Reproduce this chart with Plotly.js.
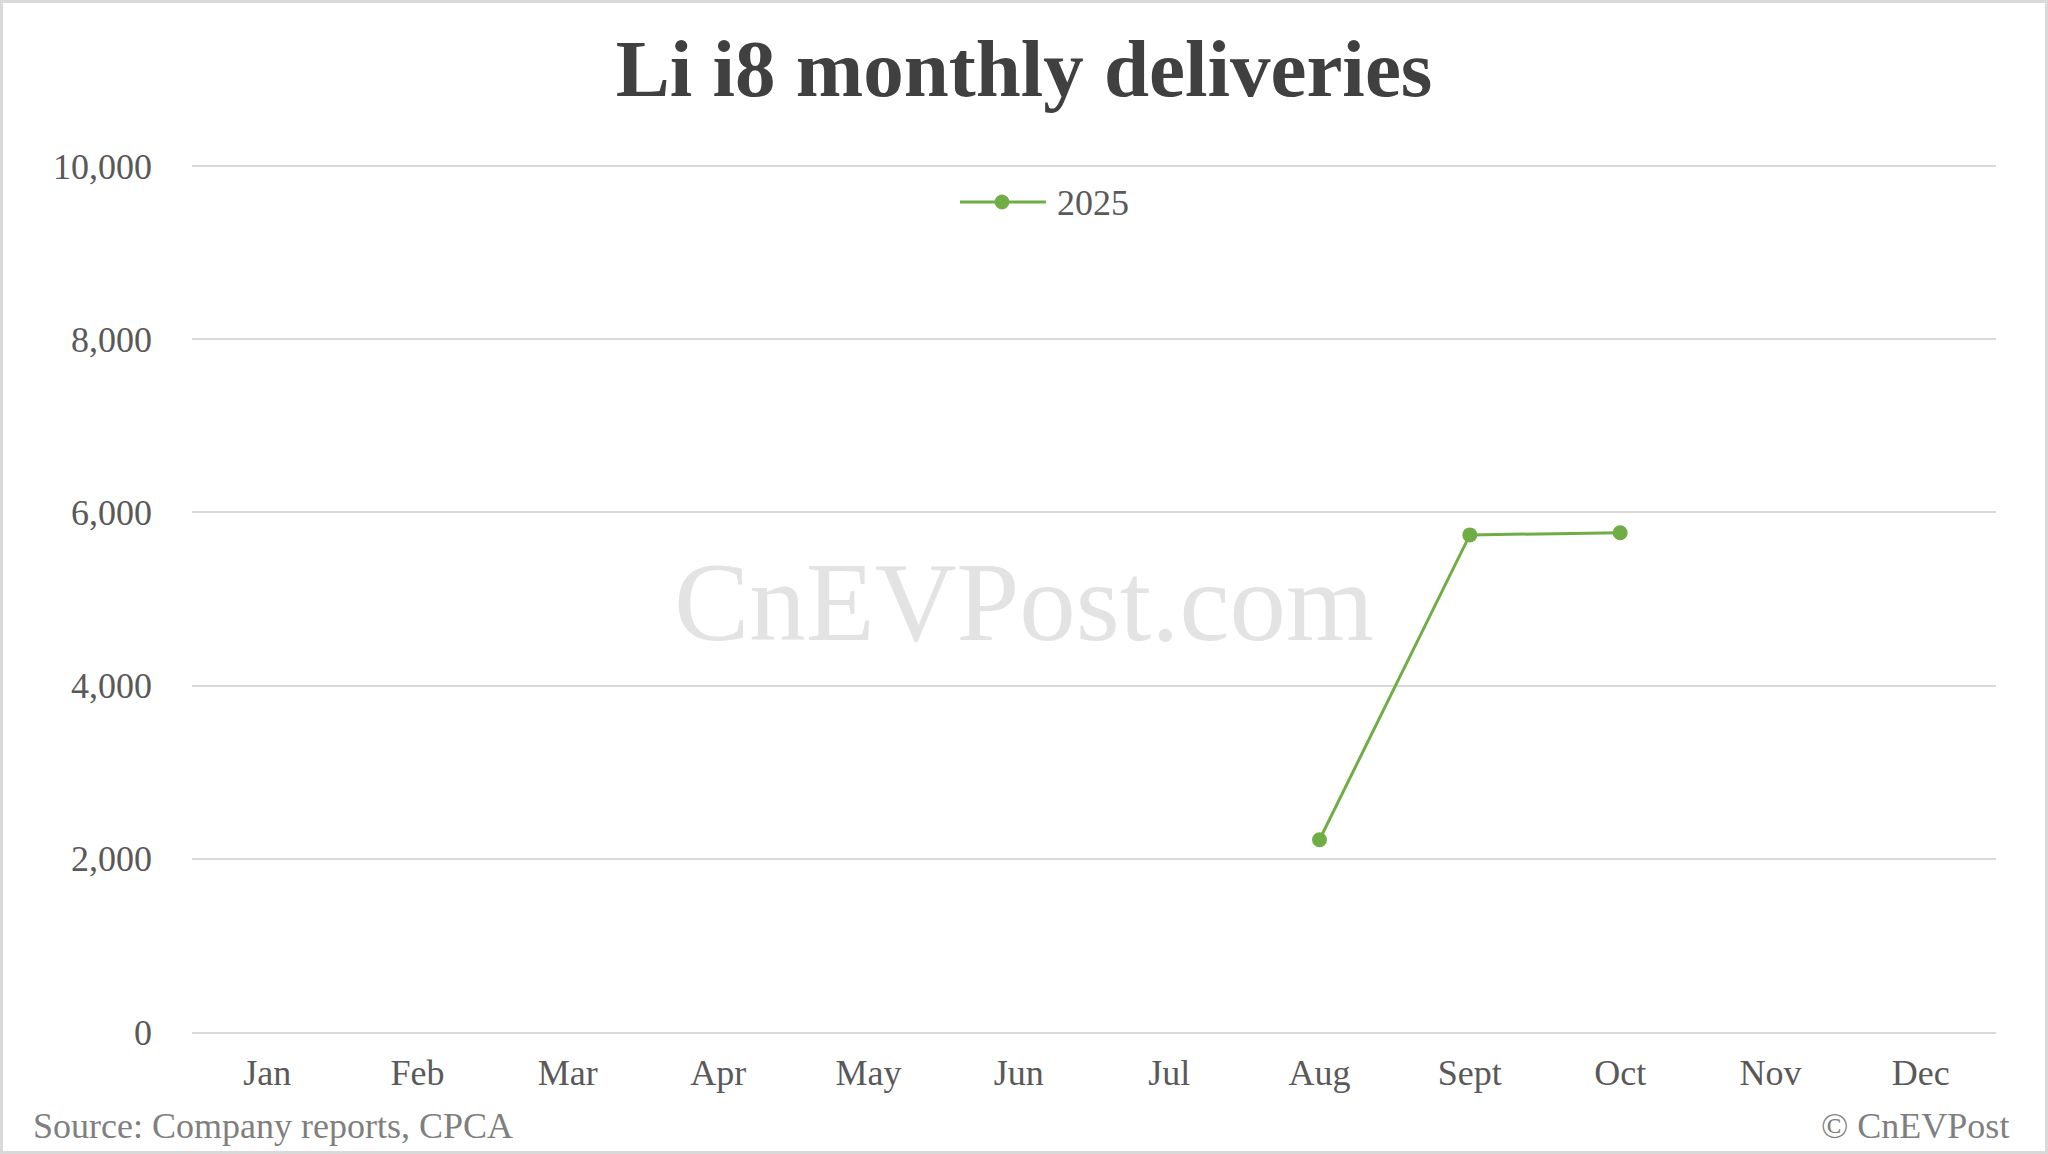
<!DOCTYPE html>
<html>
<head>
<meta charset="utf-8">
<script src="https://cdn.plot.ly/plotly-3.0.1.min.js"></script>
<style>
html,body{margin:0;padding:0;background:#fff;}
#wrap{position:relative;width:2048px;height:1154px;}
#chart{position:absolute;left:0;top:0;width:2048px;height:1154px;}
#frame{position:absolute;left:0;top:0;width:2048px;height:1154px;box-sizing:border-box;border:3px solid #d9d9d9;pointer-events:none;}
</style>
</head>
<body>
<div id="wrap"><div id="chart"></div><div id="frame"></div></div>
<script>
const months = ["Jan","Feb","Mar","Apr","May","Jun","Jul","Aug","Sept","Oct","Nov","Dec"];
const deliveries2025 = [null,null,null,null,null,null,null,2220,5740,5765,null,null];
const yTicks = [0,2000,4000,6000,8000,10000];
const seriesName = "2025";

const serif = "'Liberation Serif','Times New Roman',serif";
const green = "#70ad47";

const trace = {
  x: months,
  y: deliveries2025,
  name: seriesName,
  type: "scatter",
  mode: "lines+markers",
  line: {color: green, width: 3},
  marker: {color: green, size: 15},
  connectgaps: false,
  showlegend: false
};

// plot area: x 192..1996, y 162..1032 (top padded so the 10,000 gridline is drawn)
const TOP = 162, BOT = 1032, LEFT = 192, RIGHT = 1996;
const px = v => (v - LEFT) / (RIGHT - LEFT);
const py = v => (BOT - v) / (BOT - TOP);
const yMax = 10000 * (BOT - TOP) / (BOT - 166);

const layout = {
  width: 2048,
  height: 1154,
  paper_bgcolor: "#ffffff",
  plot_bgcolor: "#ffffff",
  margin: {l: LEFT, r: 2048 - RIGHT, t: TOP, b: 1154 - BOT},
  title: {
    text: "<b>Li i8 monthly deliveries</b>",
    font: {family: serif, size: 81, color: "#404040"},
    x: 0.5, xanchor: "center",
    y: 1 - 68/1154, yref: "container", yanchor: "middle"
  },
  font: {family: serif, color: "#595959", size: 36},
  xaxis: {
    type: "category",
    categoryarray: months,
    range: [-0.5, 11.5],
    showgrid: false,
    zeroline: false,
    showline: true,
    linecolor: "#d9d9d9",
    linewidth: 2,
    ticks: "",
    ticklabelstandoff: 8,
    tickfont: {family: serif, size: 36, color: "#595959"},
    fixedrange: true
  },
  yaxis: {
    range: [0, yMax],
    tickvals: yTicks,
    tickformat: ",",
    showgrid: true,
    gridcolor: "#d9d9d9",
    gridwidth: 2,
    zeroline: false,
    showline: false,
    ticks: "",
    ticklabelstandoff: 39,
    tickfont: {family: serif, size: 36, color: "#595959"},
    fixedrange: true
  },
  showlegend: false,
  shapes: [
    {type: "line", xref: "paper", yref: "paper",
     x0: px(960), x1: px(1046), y0: py(202), y1: py(202),
     line: {color: green, width: 3}},
    {type: "circle", xref: "paper", yref: "paper",
     x0: px(1002 - 7), x1: px(1002 + 7), y0: py(202 + 7), y1: py(202 - 7),
     fillcolor: green, line: {color: green, width: 1}}
  ],
  annotations: [
    {
      text: seriesName,
      xref: "paper", yref: "paper",
      x: px(1055), y: py(203),
      xanchor: "left", yanchor: "middle",
      showarrow: false,
      font: {family: serif, size: 36, color: "#595959"}
    },
    {
      text: "CnEVPost.com",
      xref: "paper", yref: "paper",
      x: px(1024), y: py(601),
      xanchor: "center", yanchor: "middle",
      showarrow: false,
      font: {family: serif, size: 113, color: "#e3e3e3"}
    },
    {
      text: "Source: Company reports, CPCA",
      xref: "paper", yref: "paper",
      x: px(31), y: py(1126),
      xanchor: "left", yanchor: "middle",
      showarrow: false,
      font: {family: serif, size: 36, color: "#7f7f7f"}
    },
    {
      text: "© CnEVPost",
      xref: "paper", yref: "paper",
      x: px(2011), y: py(1126),
      xanchor: "right", yanchor: "middle",
      showarrow: false,
      font: {family: serif, size: 36, color: "#7f7f7f"}
    }
  ]
};

Plotly.newPlot("chart", [trace], layout, {displayModeBar: false, staticPlot: true});
</script>
</body>
</html>
